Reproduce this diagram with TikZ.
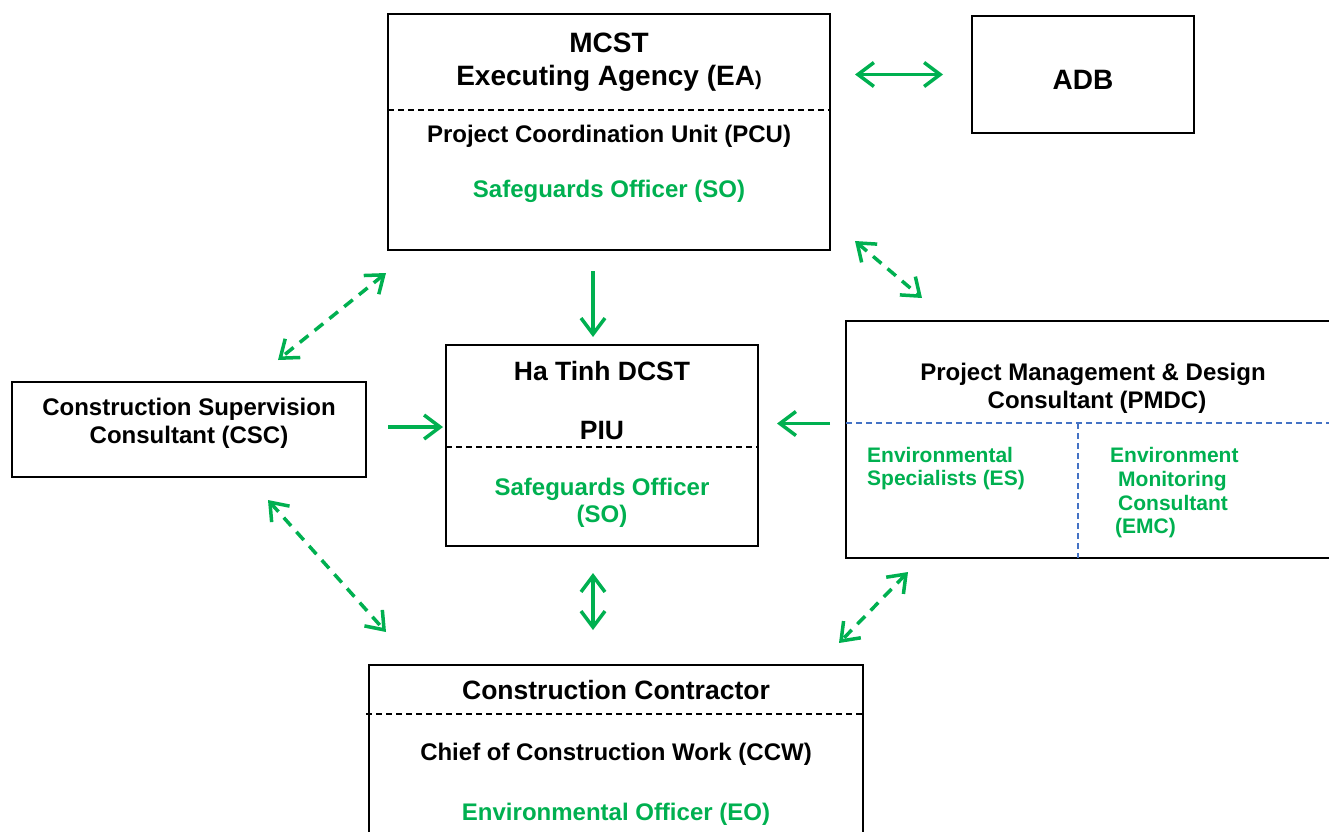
\documentclass[tikz,border=0pt]{standalone}
\usepackage{fontspec}
\setmainfont{Liberation Sans}
\usetikzlibrary{arrows.meta}
\definecolor{grn}{RGB}{0,176,80}
\definecolor{blu}{RGB}{68,114,196}
\begin{document}
\begin{tikzpicture}[x=1pt,y=-1pt,
  box/.style={draw=black, line width=1.5pt, inner sep=0pt, outer sep=0pt},
  body/.style={font=\bfseries\fontsize{24}{29}\selectfont, anchor=base, inner sep=0pt},
  head/.style={font=\bfseries\fontsize{28}{34}\selectfont, anchor=base, inner sep=0pt},
  mid/.style={font=\bfseries\fontsize{26.5}{32}\selectfont, anchor=base, inner sep=0pt},
  small/.style={font=\bfseries\fontsize{21}{25}\selectfont, anchor=base west, inner sep=0pt, text=grn},
  gtext/.style={text=grn},
  blkdash/.style={draw=black, line width=1.3pt, dash pattern=on 6pt off 4pt},
  bludash/.style={draw=blu, line width=1.3pt, dash pattern=on 6pt off 4pt},
  tip/.tip={Straight Barb[length=16pt,width=24pt]},
  arr/.style={draw=grn, line width=3.5pt, -{tip}},
  arrb/.style={draw=grn, line width=3.5pt, {tip}-{tip}},
  darrb/.style={draw=grn, line width=3.5pt, {tip}-{tip}, dash pattern=on 11pt off 8pt}
]
\path[use as bounding box] (0,0) rectangle (1329,831);
\clip (0,0) rectangle (1329,831);

% boxes
\node[box, minimum width=442pt, minimum height=236pt] (EA) at (609,132) {};
\node[box, minimum width=222pt, minimum height=117pt] (ADB) at (1083,74.5) {};
\node[box, minimum width=312pt, minimum height=201pt] (PIU) at (602,445.5) {};
\node[box, minimum width=354pt, minimum height=95pt] (CSC) at (189,429.5) {};
\node[box, minimum width=494pt, minimum height=237pt] (PMDC) at (1093,439.5) {};
\node[box, minimum width=494pt, minimum height=190pt] (CON) at (616,760) {};

% inner dashed separators
\draw[blkdash] (EA.west |- 0,110) -- (EA.east |- 0,110);
\draw[blkdash] (PIU.west |- 0,447) -- (PIU.east |- 0,447);
\draw[blkdash] (366,714) -- (CON.east |- 0,714);
\draw[bludash] (PMDC.west |- 0,423) -- (1329,423);
\draw[bludash] (1078,423) -- (1078,558);

% texts EA
\node[head] (t1) at (609,52) {MCST};
\node[head] (t2) at (609,85) {Executing Agency (EA{\fontsize{20}{24}\selectfont )}};
\node[body] (t3) at (609,142) {Project Coordination Unit (PCU)};
\node[body, gtext] (t4) at (609,197) {Safeguards Officer (SO)};
% ADB
\node[head] (t5) at (1083,89) {ADB};
% PIU
\node[mid] (t6) at (602,380) {Ha Tinh DCST};
\node[mid] (t7) at (602,439) {PIU};
\node[body, gtext] (t8) at (602,495) {Safeguards Officer};
\node[body, gtext] (t9) at (602,522) {(SO)};
% CSC
\node[body] (t10) at (189,415) {Construction Supervision};
\node[body] (t11) at (189,443) {Consultant (CSC)};
% PMDC
\node[body] (t12) at (1093,380) {Project Management \& Design};
\node[body] (t13) at (1097,408) {Consultant (PMDC)};
\node[small] (t14) at (867,462) {Environmental};
\node[small] (t15) at (867,485) {Specialists (ES)};
\node[small] (t16) at (1110,462) {Environment};
\node[small] (t17) at (1118,486) {Monitoring};
\node[small] (t18) at (1118,510) {Consultant};
\node[small] (t19) at (1115,533) {(EMC)};
% Contractor
\node[mid] (t20) at (616,699) {Construction Contractor};
\node[body] (t21) at (616,760) {Chief of Construction Work (CCW)};
\node[body, gtext] (t22) at (616,820) {Environmental Officer (EO)};

% solid connectors
\draw[arrb, shorten <=25pt, shorten >=29pt] (EA.east |- ADB.west) -- (ADB.west);
\draw[arr, shorten <=21pt, shorten >=8pt] ([xshift=-16pt]EA.south) -- ([xshift=-9pt]PIU.north);
\draw[arr, shorten <=22pt, shorten >=3pt] ([yshift=2.5pt]CSC.east) -- ([yshift=2.5pt]CSC.east -| PIU.west);
\draw[arr, shorten <=16pt, shorten >=19pt] ([yshift=16pt]PMDC.west) -- ([yshift=16pt]PMDC.west -| PIU.east);
\draw[arrb, shorten <=27pt, shorten >=35pt] ([xshift=-9pt]PIU.south) -- ([xshift=-23pt]CON.north);

% dashed connectors
\coordinate (d1a) at (386,273);
\coordinate (d1b) at (278,360);
\coordinate (d2a) at (855,241);
\coordinate (d2b) at (922,298);
\coordinate (d3a) at (268,500);
\coordinate (d3b) at (386,632);
\coordinate (d4a) at (908,572);
\coordinate (d4b) at (839,643);
\draw[darrb] (d1a) -- (d1b);
\draw[darrb] (d2a) -- (d2b);
\draw[darrb] (d3a) -- (d3b);
\draw[darrb] (d4a) -- (d4b);
\end{tikzpicture}
\end{document}
